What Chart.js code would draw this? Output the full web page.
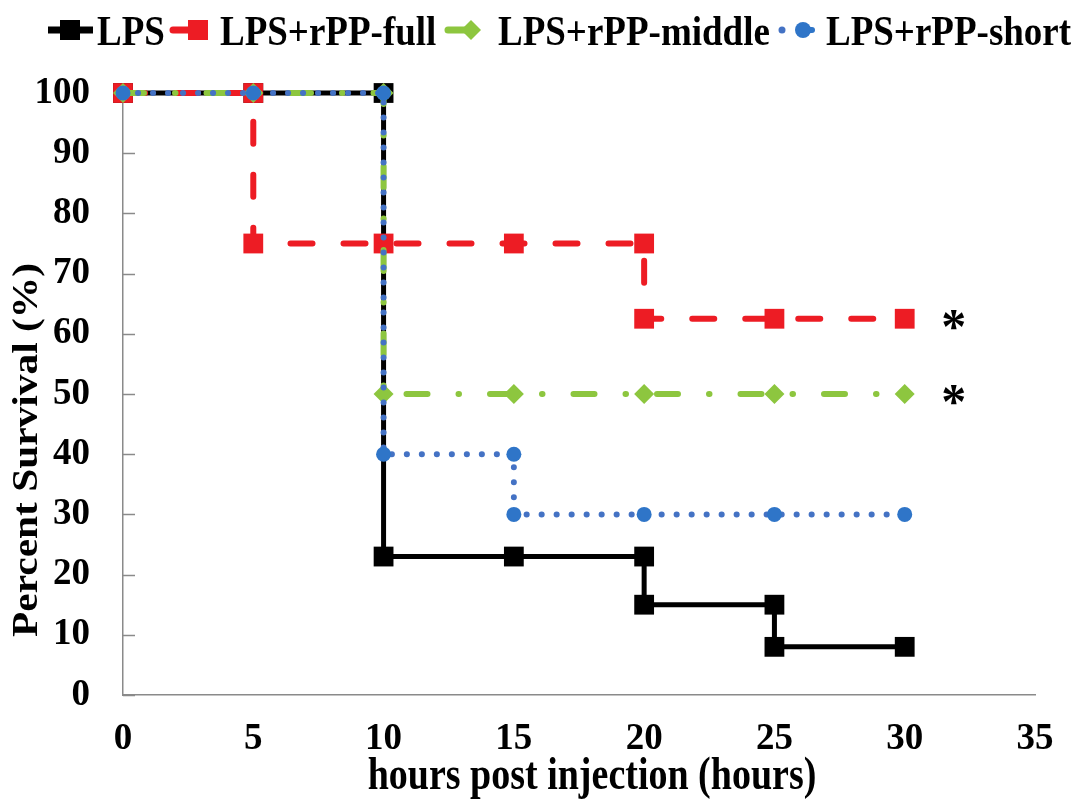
<!DOCTYPE html>
<html><head><meta charset="utf-8">
<script src="https://cdn.jsdelivr.net/npm/chart.js@4"></script>
<style>html,body{margin:0;padding:0;background:#fff}#wrap{width:1084px;height:809px}</style>
</head><body><div id="wrap"><canvas id="c" width="1084" height="809"></canvas></div>
<script>
// ---- data ----
const seriesNames = ['LPS', 'LPS+rPP-full', 'LPS+rPP-middle', 'LPS+rPP-short'];
const lpsHours    = [0, 5, 10, 10, 15, 20, 20, 25, 25, 30];
const lpsSurvival = [100, 100, 100, 23, 23, 23, 15, 15, 8, 8];
const fullHours    = [0, 5, 5, 10, 15, 20, 20, 25, 30];
const fullSurvival = [100, 100, 75, 75, 75, 75, 62.5, 62.5, 62.5];
const middleHours    = [0, 5, 10, 10, 15, 20, 25, 30];
const middleSurvival = [100, 100, 100, 50, 50, 50, 50, 50];
const shortHours    = [0, 5, 10, 10, 15, 15, 20, 25, 30];
const shortSurvival = [100, 100, 100, 40, 40, 30, 30, 30, 30];
const significant = [false, true, true, false];
const xTickValues = [0, 5, 10, 15, 20, 25, 30, 35];
const yTickValues = [0, 10, 20, 30, 40, 50, 60, 70, 80, 90, 100];
const xTitle = 'hours post injection (hours)';
const yTitle = 'Percent Survival (%)';

const FONT = '"Liberation Serif", "Times New Roman", serif';
const STRETCH = 1.15;
const pts = (xs, ys) => xs.map((x, i) => ({x: x, y: ys[i]}));

const COLORS = ['#000000', '#ED1C24', '#8DC63F', '#4472C4'];
const MARKER = ['#000000', '#ED1C24', '#8DC63F', '#2F75C8'];

const datasets = [
  {label: seriesNames[0], data: pts(lpsHours, lpsSurvival), borderColor: COLORS[0], borderWidth: 5,
   borderJoinStyle: 'miter', borderCapStyle: 'butt', pointStyle: 'rect', pointRadius: 14,
   pointBackgroundColor: MARKER[0], pointBorderWidth: 0, order: 4},
  {label: seriesNames[1], data: pts(fullHours, fullSurvival), borderColor: COLORS[1], borderWidth: 6,
   borderDash: [22, 31], borderCapStyle: 'round', pointStyle: 'rect', pointRadius: 14,
   pointBackgroundColor: MARKER[1], pointBorderWidth: 0, order: 3},
  {label: seriesNames[2], data: pts(middleHours, middleSurvival), borderColor: COLORS[2], borderWidth: 6,
   borderDash: [21, 31, 0.5, 31], borderCapStyle: 'round', pointStyle: 'rectRot', pointRadius: 10,
   pointBackgroundColor: MARKER[2], pointBorderWidth: 0, order: 2},
  {label: seriesNames[3], data: pts(shortHours, shortSurvival), borderColor: COLORS[3], borderWidth: 6,
   borderDash: [0.1, 14.9], borderCapStyle: 'round', pointStyle: 'circle', pointRadius: 7.5,
   pointBackgroundColor: MARKER[3], pointBorderWidth: 0, order: 1}
].map(d => Object.assign({fill: false, tension: 0, clip: false, pointHoverRadius: d.pointRadius}, d));

// inside tick marks on the y axis
const innerTicks = {
  id: 'innerTicks',
  beforeDatasetsDraw(chart) {
    const {ctx, scales: {y}, chartArea} = chart;
    ctx.save();
    ctx.strokeStyle = '#8a8a8a';
    ctx.lineWidth = 1.5;
    yTickValues.forEach(v => {
      const py = Math.round(y.getPixelForValue(v)) + 0.5;
      ctx.beginPath();
      ctx.moveTo(chartArea.left, py);
      ctx.lineTo(chartArea.left + 12, py);
      ctx.stroke();
    });
    ctx.restore();
  }
};

// significance asterisks
const stars = {
  id: 'stars',
  afterDatasetsDraw(chart) {
    const {ctx, scales: {x, y}} = chart;
    ctx.save();
    ctx.fillStyle = '#000';
    ctx.font = 'bold 50px ' + FONT;
    ctx.textAlign = 'center';
    ctx.textBaseline = 'alphabetic';
    chart.data.datasets.forEach((ds, i) => {
      if (!significant[i]) return;
      const last = ds.data[ds.data.length - 1];
      const px = x.getPixelForValue(last.x) + 49;
      const py = y.getPixelForValue(last.y) + 24;
      ctx.fillText('*', px, py);
    });
    ctx.restore();
  }
};

// axis titles (slightly tall type, like the reference)
const axisTitles = {
  id: 'axisTitles',
  afterDraw(chart) {
    const ctx = chart.ctx;
    ctx.save();
    ctx.fillStyle = '#000';
    ctx.font = 'bold 38px ' + FONT;
    ctx.textAlign = 'center';
    ctx.textBaseline = 'alphabetic';
    ctx.translate(592, 789);
    ctx.scale(1, 1.2);
    ctx.fillText(xTitle, 0, 0);
    ctx.restore();

    ctx.save();
    ctx.fillStyle = '#000';
    ctx.font = 'bold 36px ' + FONT;
    ctx.textAlign = 'center';
    ctx.textBaseline = 'middle';
    ctx.translate(28, 450);
    ctx.scale(1, STRETCH);
    ctx.rotate(-Math.PI / 2);
    ctx.fillText(yTitle, 0, 0);
    ctx.restore();
  }
};

// legend: short line + marker + label
const legendPos = [
  {l0: 48, l1: 93, m: 70, t: 97},
  {l0: 173, l1: 190, m: 198, t: 220},
  {l0: 448, l1: 466, m: 471, t: 498},
  {l0: 779, l1: 815, m: 803, t: 826}
];
const customLegend = {
  id: 'customLegend',
  afterDraw(chart) {
    const ctx = chart.ctx;
    const cy = 30;
    ctx.save();
    chart.data.datasets.forEach((ds, i) => {
      const p = legendPos[i];
      ctx.strokeStyle = COLORS[i];
      ctx.fillStyle = MARKER[i];
      ctx.lineWidth = 7;
      ctx.lineCap = i === 0 ? 'butt' : 'round';
      if (i === 3) {
        ctx.beginPath(); ctx.arc(p.l0 + 3, cy, 3.5, 0, Math.PI * 2); ctx.fillStyle = COLORS[3]; ctx.fill();
        ctx.beginPath(); ctx.moveTo(p.m, cy); ctx.lineTo(p.l1 - 3, cy); ctx.strokeStyle = MARKER[3]; ctx.lineWidth = 6; ctx.stroke();
        ctx.fillStyle = MARKER[3];
        ctx.beginPath(); ctx.arc(p.m, cy, 8, 0, Math.PI * 2); ctx.fill();
      } else {
        ctx.beginPath(); ctx.moveTo(p.l0, cy); ctx.lineTo(p.l1, cy); ctx.stroke();
        if (i === 2) {
          ctx.beginPath();
          ctx.moveTo(p.m, cy - 10); ctx.lineTo(p.m + 10, cy); ctx.lineTo(p.m, cy + 10); ctx.lineTo(p.m - 10, cy);
          ctx.closePath(); ctx.fill();
        } else {
          ctx.fillRect(p.m - 10, cy - 10, 20, 20);
        }
      }
      ctx.save();
      ctx.fillStyle = '#000';
      ctx.font = 'bold 37px ' + FONT;
      ctx.textAlign = 'left';
      ctx.textBaseline = 'alphabetic';
      ctx.translate(p.t, 45);
      ctx.scale(1, STRETCH);
      ctx.fillText(ds.label, 0, 0);
      ctx.restore();
    });
    ctx.restore();
  }
};

new Chart(document.getElementById('c'), {
  type: 'line',
  data: {datasets},
  options: {
    responsive: false,
    animation: false,
    events: [],
    layout: {padding: {top: 93, right: 49, bottom: 0, left: 0}},
    plugins: {legend: {display: false}, tooltip: {enabled: false}, title: {display: false}},
    scales: {
      x: {
        type: 'linear', min: 0, max: 35,
        afterBuildTicks: s => { s.ticks = xTickValues.map(v => ({value: v})); },
        afterFit: s => { s.height = 114; },
        grid: {display: true, drawOnChartArea: false, drawTicks: false},
        border: {display: true, color: '#8a8a8a', width: 1.5},
        ticks: {color: '#000', padding: 22, maxRotation: 0, font: {family: FONT, size: 37, weight: 'bold'}},
        title: {display: false, text: xTitle}
      },
      y: {
        type: 'linear', min: 0, max: 100,
        afterBuildTicks: s => { s.ticks = yTickValues.map(v => ({value: v})); },
        afterFit: s => { s.width = 123; },
        grid: {display: true, drawOnChartArea: false, drawTicks: false},
        border: {display: true, color: '#8a8a8a', width: 1.5},
        ticks: {color: '#000', padding: 33, font: {family: FONT, size: 37, weight: 'bold'}},
        title: {display: false, text: yTitle}
      }
    }
  },
  plugins: [innerTicks, stars, axisTitles, customLegend]
});
</script>
</body></html>
